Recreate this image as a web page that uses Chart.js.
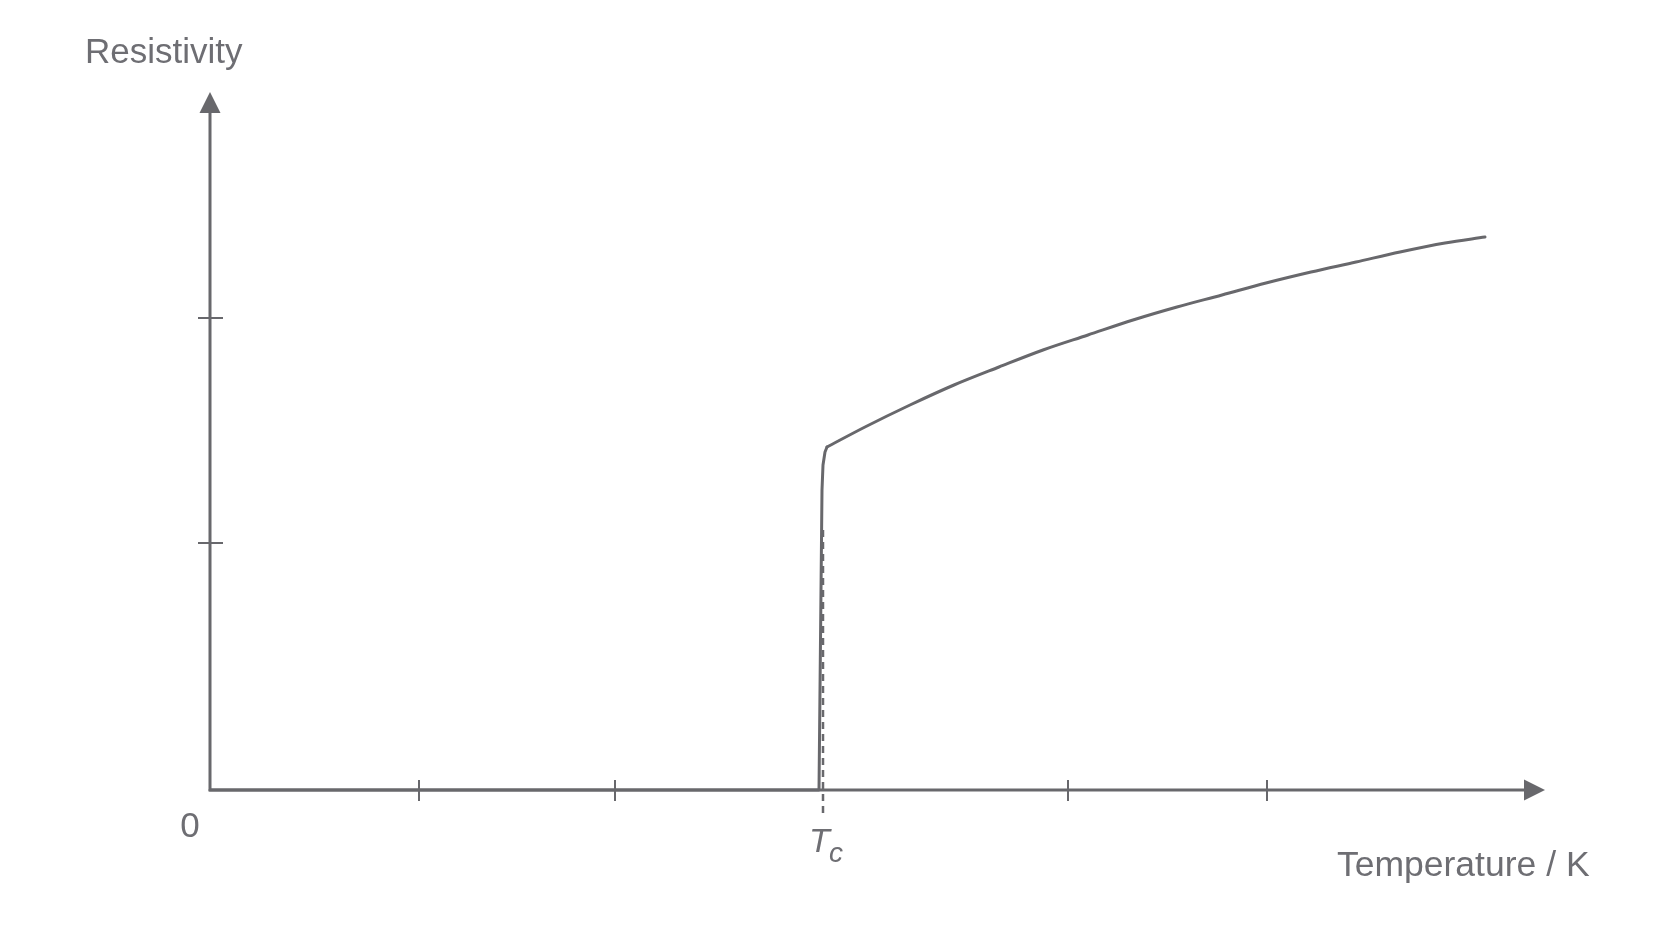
<!DOCTYPE html>
<html>
<head>
<meta charset="utf-8">
<script src="https://cdn.jsdelivr.net/npm/chart.js@4"></script>
<style>
  html, body { margin: 0; padding: 0; background: #ffffff; }
  #wrap { width: 1672px; height: 941px; position: relative; }
</style>
</head>
<body>
<div id="wrap"><canvas id="c"></canvas></div>
<script>
// ---- data (arbitrary units) ----
// superconducting part and the sharp transition at Tc
const transitionTemp = [0, 6.09, 6.12, 6.13, 6.15, 6.17];
const transitionRes  = [0, 0, 3.00, 3.25, 3.38, 3.43];
// normal-state resistivity above Tc
const normalTemp = [6.17, 6.55, 7.00, 7.44, 7.89, 8.33, 8.78, 9.23, 9.67, 10.12, 10.56, 11.01, 11.46, 11.90, 12.35, 12.75];
const normalRes  = [3.43, 3.63, 3.85, 4.05, 4.23, 4.40, 4.55, 4.70, 4.83, 4.95, 5.07, 5.18, 5.28, 5.38, 5.47, 5.53];
const criticalTemp = 6.13;
const tcLineRange = [2.6, -0.23];
const xTickValues = [2.09, 4.05, 6.13, 8.58, 10.57];
const yTickValues = [2.47, 4.72];
const xAxisMax = 13.35;
const yAxisMax = 6.98;
const xAxisTitle = "Temperature / K";
const yAxisTitle = "Resistivity";
const originLabel = "0";
const tcLabelMain = "T";
const tcLabelSub = "c";

const toPts = (xs, ys) => xs.map((t, i) => ({ x: t, y: ys[i] }));
const tcPoints = tcLineRange.map(v => ({ x: criticalTemp, y: v }));

const INK = '#68686c';
const TEXT = '#6e6e73';
const FONT = '"Liberation Sans", Arial, Helvetica, sans-serif';

const axesPlugin = {
  id: 'axesPlugin',
  afterDatasetsDraw(chart) {
    const ctx = chart.ctx;
    const xs = chart.scales.x, ys = chart.scales.y;
    const x0 = xs.getPixelForValue(0), y0 = ys.getPixelForValue(0);
    const xEnd = xs.getPixelForValue(xAxisMax), yEnd = ys.getPixelForValue(yAxisMax);
    ctx.save();
    ctx.strokeStyle = INK;
    ctx.fillStyle = INK;
    ctx.lineWidth = 3;
    ctx.lineCap = 'butt';
    ctx.beginPath();
    ctx.moveTo(x0, y0); ctx.lineTo(xEnd - 18, y0);
    ctx.moveTo(x0, y0 + 1.5); ctx.lineTo(x0, yEnd + 18);
    ctx.stroke();
    ctx.beginPath();
    ctx.moveTo(xEnd, y0); ctx.lineTo(xEnd - 21, y0 - 10.5); ctx.lineTo(xEnd - 21, y0 + 10.5); ctx.closePath();
    ctx.fill();
    ctx.beginPath();
    ctx.moveTo(x0, yEnd); ctx.lineTo(x0 - 10.5, yEnd + 21); ctx.lineTo(x0 + 10.5, yEnd + 21); ctx.closePath();
    ctx.fill();
    ctx.lineWidth = 2;
    ctx.beginPath();
    xTickValues.forEach(v => {
      if (v === criticalTemp) return;
      const px = xs.getPixelForValue(v);
      ctx.moveTo(px, y0 - 10); ctx.lineTo(px, y0 + 11);
    });
    yTickValues.forEach(v => {
      const py = ys.getPixelForValue(v);
      ctx.moveTo(x0 - 12, py); ctx.lineTo(x0 + 13, py);
    });
    ctx.stroke();
    ctx.fillStyle = TEXT;
    ctx.textBaseline = 'alphabetic';
    ctx.font = '35px ' + FONT;
    ctx.textAlign = 'left';
    ctx.fillText(yAxisTitle, 85, 63);
    ctx.font = '35.5px ' + FONT;
    ctx.fillText(xAxisTitle, 1337, 876);
    ctx.font = '35px ' + FONT;
    ctx.textAlign = 'center';
    ctx.fillText(originLabel, x0 - 20, y0 + 47);
    const tcx = xs.getPixelForValue(criticalTemp);
    ctx.textAlign = 'left';
    ctx.font = 'italic 34px ' + FONT;
    ctx.fillText(tcLabelMain, tcx - 14, y0 + 62);
    ctx.font = 'italic 28px ' + FONT;
    ctx.fillText(tcLabelSub, tcx + 6, y0 + 72);
    ctx.restore();
  }
};

new Chart(document.getElementById('c'), {
  type: 'scatter',
  data: {
    datasets: [
      {
        data: toPts(transitionTemp, transitionRes),
        showLine: true,
        borderColor: INK,
        borderWidth: 3,
        pointRadius: 0,
        tension: 0,
        borderJoinStyle: 'round',
        borderCapStyle: 'round',
        clip: false
      },
      {
        data: toPts(normalTemp, normalRes),
        showLine: true,
        borderColor: INK,
        borderWidth: 3,
        pointRadius: 0,
        cubicInterpolationMode: 'monotone',
        borderJoinStyle: 'round',
        borderCapStyle: 'round',
        clip: false
      },
      {
        data: tcPoints,
        showLine: true,
        borderColor: INK,
        borderWidth: 2.5,
        borderDash: [7, 5],
        pointRadius: 0,
        clip: false
      }
    ]
  },
  options: {
    responsive: true,
    maintainAspectRatio: false,
    animation: false,
    events: [],
    layout: { padding: { left: 210, right: 127, top: 92, bottom: 151 } },
    plugins: { legend: { display: false }, tooltip: { enabled: false } },
    scales: {
      x: { type: 'linear', min: 0, max: xAxisMax, display: false },
      y: { type: 'linear', min: 0, max: yAxisMax, display: false }
    }
  },
  plugins: [axesPlugin]
});
</script>
</body>
</html>
